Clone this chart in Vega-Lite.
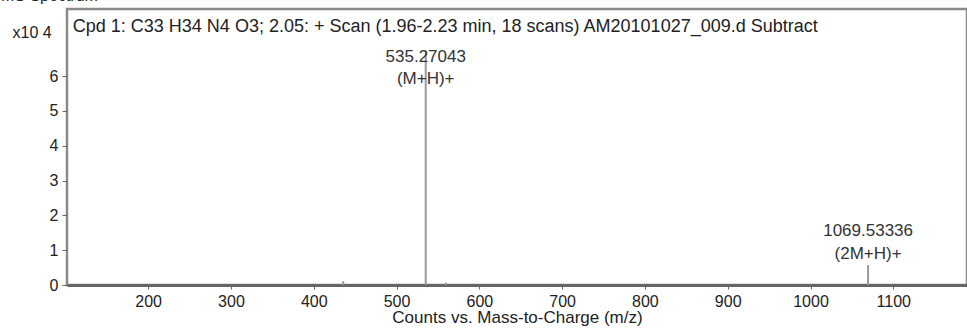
{
  "$schema": "https://vega.github.io/schema/vega-lite/v6.json",
  "width": 900,
  "height": 276,
  "autosize": "none",
  "padding": {"left": 67, "top": 9, "right": 0, "bottom": 43},
  "background": "white",
  "config": {
    "font": "Liberation Sans",
    "view": {"stroke": "#8a8a8a", "strokeWidth": 2.5},
    "axis": {"grid": false, "labelFont": "Liberation Sans", "titleFont": "Liberation Sans", "labelColor": "#222", "titleColor": "#222", "titleFontWeight": "normal"}
  },
  "title": {
    "text": "MS Spectrum",
    "anchor": "start",
    "frame": "group",
    "orient": "top",
    "baseline": "alphabetic",
    "offset": 0,
    "dx": -66,
    "dy": 8,
    "fontSize": 16,
    "fontWeight": "normal",
    "color": "#222",
    "font": "Liberation Sans"
  },
  "datasets": {
    "peaks": [
      {"mz": 435.6, "counts": 1100, "label": ""},
      {"mz": 559.7, "counts": 700, "label": ""},
      {"mz": 535.27043, "counts": 67000, "label": "535.27043\n(M+H)+"},
      {"mz": 1069.53336, "counts": 5700, "label": "1069.53336\n(2M+H)+"}
    ],
    "notes": [
      {"mz": 109, "counts": 72600, "text": "Cpd 1: C33 H34 N4 O3; 2.05: + Scan (1.96-2.23 min, 18 scans) AM20101027_009.d  Subtract"}
    ]
  },
  "layer": [
    {
      "data": {"name": "peaks"},
      "mark": {"type": "rule", "color": "#9a9a9a", "strokeWidth": 2},
      "encoding": {
        "x": {
          "field": "mz", "type": "quantitative",
          "scale": {"domain": [102, 1189], "nice": false, "zero": false},
          "axis": {
            "values": [200, 300, 400, 500, 600, 700, 800, 900, 1000, 1100],
            "format": "d",
            "labelFontSize": 16, "tickSize": 4, "tickColor": "#666", "domainColor": "#666", "domainWidth": 3,
            "labelPadding": 4, "labelFlush": false,
            "title": "Counts vs. Mass-to-Charge (m/z)", "titleFontSize": 17, "titlePadding": 0
          }
        },
        "y": {
          "field": "counts", "type": "quantitative",
          "scale": {"domain": [0, 79240], "nice": false},
          "axis": {
            "values": [0, 10000, 20000, 30000, 40000, 50000, 60000],
            "labelExpr": "datum.value / 10000",
            "labelFontSize": 16, "tickSize": 5, "tickColor": "#666", "labelPadding": 4, "domain": false,
            "title": "x10 4", "titleAngle": 0, "titleAlign": "left", "titleBaseline": "alphabetic",
            "titleX": -55, "titleY": 28, "titleFontSize": 16
          }
        },
        "y2": {"datum": 0}
      }
    },
    {
      "data": {"name": "peaks"},
      "transform": [{"filter": "datum.mz > 530 && datum.mz < 535.5"}],
      "mark": {"type": "text", "align": "center", "baseline": "alphabetic", "dy": 10, "lineBreak": "\n", "lineHeight": 22, "fontSize": 17, "color": "#333"},
      "encoding": {
        "x": {"field": "mz", "type": "quantitative"},
        "y": {"field": "counts", "type": "quantitative"},
        "text": {"field": "label"}
      }
    },
    {
      "data": {"name": "peaks"},
      "transform": [{"filter": "datum.mz > 1000"}],
      "mark": {"type": "text", "align": "center", "baseline": "alphabetic", "dy": -29, "lineBreak": "\n", "lineHeight": 23, "fontSize": 17, "color": "#333"},
      "encoding": {
        "x": {"field": "mz", "type": "quantitative"},
        "y": {"field": "counts", "type": "quantitative"},
        "text": {"field": "label"}
      }
    },
    {
      "data": {"name": "notes"},
      "mark": {"type": "text", "align": "left", "baseline": "alphabetic", "fontSize": 18, "color": "#222"},
      "encoding": {
        "x": {"field": "mz", "type": "quantitative"},
        "y": {"field": "counts", "type": "quantitative"},
        "text": {"field": "text"}
      }
    }
  ]
}
